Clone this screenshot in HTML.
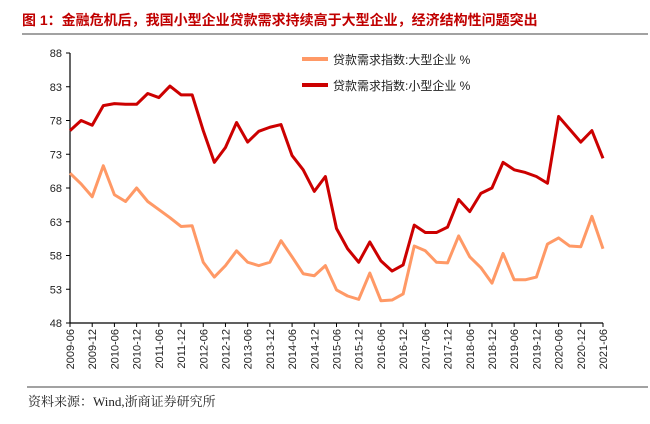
<!DOCTYPE html>
<html><head><meta charset="utf-8"><style>
body{margin:0;background:#fff;width:650px;height:424px;overflow:hidden}
svg{display:block}
</style></head><body>
<svg id="c" width="650" height="424" xmlns="http://www.w3.org/2000/svg">
<text x="22" y="25" font-family="Liberation Sans, Noto Sans CJK SC, sans-serif" font-size="14" font-weight="bold" fill="#c00000">图 1：金融危机后，我国小型企业贷款需求持续高于大型企业，经济结构性问题突出</text>
<line x1="22" y1="34" x2="648" y2="34" stroke="#444" stroke-width="1"/>
<line x1="27" y1="387" x2="648" y2="387" stroke="#444" stroke-width="1"/>
<text x="28" y="406" font-family="Liberation Serif, Noto Serif CJK SC, serif" font-size="13" fill="#222">资料来源：Wind,浙商证券研究所</text>
<g id="axes"></g><g id="series"></g>
<g>
<line x1="302" y1="59" x2="328" y2="59" stroke="#ff9966" stroke-width="4"/>
<text x="333" y="64" font-family="Liberation Sans, Noto Sans CJK SC, sans-serif" font-size="12" fill="#222">贷款需求指数:大型企业 %</text>
<line x1="302" y1="85" x2="328" y2="85" stroke="#cc0000" stroke-width="4"/>
<text x="333" y="90" font-family="Liberation Sans, Noto Sans CJK SC, sans-serif" font-size="12" fill="#222">贷款需求指数:小型企业 %</text>
</g>
</svg>
<script>
const yTicks=[48,53,58,63,68,73,78,83,88];
const small=[76.5,78,77.3,80.2,80.5,80.4,80.4,82,81.4,83.1,81.8,81.8,76.5,71.8,74,77.7,74.8,76.4,77,77.4,72.8,70.7,67.5,69.7,62,59,57,60,57.2,55.7,56.6,62.5,61.4,61.4,62.2,66.3,64.5,67.2,68,71.8,70.7,70.3,69.7,68.7,78.6,76.7,74.8,76.5,72.4];
const large=[70.2,68.6,66.7,71.3,67,66,68,66,64.8,63.6,62.3,62.4,57,54.8,56.5,58.7,57,56.5,57,60.2,57.8,55.3,55,56.5,52.9,52,51.5,55.4,51.3,51.4,52.3,59.4,58.7,57,56.9,60.9,57.8,56.2,53.9,58.3,54.4,54.4,54.8,59.7,60.6,59.4,59.3,63.8,59];
const categories=[];
for(let y=2009;y<=2021;y++){for(const m of ["03","06","09","12"]){const k=y+"-"+m;if(k>="2009-06"&&k<="2021-06")categories.push(k);}}
const NS="http://www.w3.org/2000/svg";
const L=70,R=603,T=53,B=323;
const xs=i=>L+(R-L)*i/(categories.length-1);
const ys=v=>B-(v-48)/(88-48)*(B-T);
function mk(t,a,p){const e=document.createElementNS(NS,t);for(const k in a)e.setAttribute(k,a[k]);p.appendChild(e);return e;}
const ax=document.getElementById('axes');
const ya=mk('line',{x1:L,y1:T,x2:L,y2:B,stroke:'#000','stroke-width':1.2},ax);


const xa=mk('line',{x1:L,y1:B,x2:R,y2:B,stroke:'#000','stroke-width':1.2},ax);


yTicks.forEach(v=>{
 mk('line',{x1:L-4,y1:ys(v),x2:L,y2:ys(v),stroke:'#000'},ax);
 const t=mk('text',{x:L-8,y:ys(v)+4,'text-anchor':'end','font-family':'Liberation Sans, sans-serif','font-size':11,fill:'#222'},ax);
 t.textContent=v;
 
 
});
categories.forEach((c,i)=>{
 if(i%2)return;
 const x=xs(i);
 mk('line',{x1:x,y1:B,x2:x,y2:B+4,stroke:'#000'},ax);
 const t=mk('text',{x:0,y:0,transform:`translate(${x+4},${B+6}) rotate(-90)`,'text-anchor':'end','font-family':'Liberation Sans, sans-serif','font-size':11,fill:'#222'},ax);
 t.textContent=c;
 
 
});
const sg=document.getElementById('series');
function line(d,col,name){
 const p=mk('polyline',{points:d.map((v,i)=>xs(i)+','+ys(v)).join(' '),fill:'none',stroke:col,'stroke-width':3,'stroke-linejoin':'round'},sg);
 
 
}
line(large,'#ff9966','large-enterprise-line');
line(small,'#cc0000','small-enterprise-line');
</script>
</body></html>
